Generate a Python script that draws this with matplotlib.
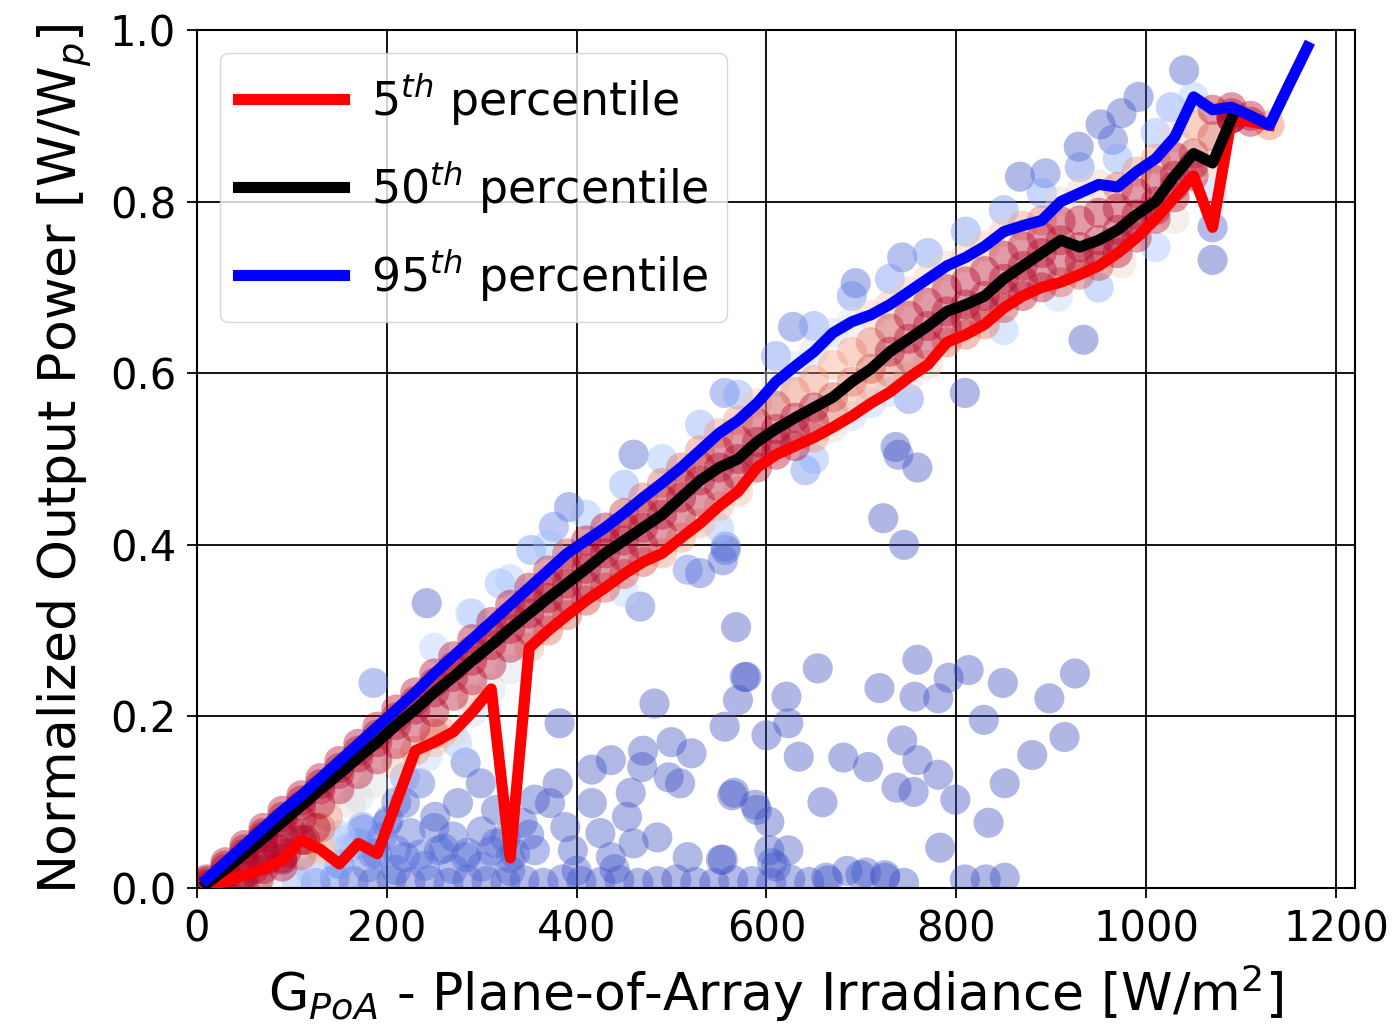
import numpy as np
import matplotlib
matplotlib.use("Agg")
import matplotlib.pyplot as plt

# irradiance bins (W/m2) used for the percentile curves
g_bins = list(range(10, 1171, 20))

p95 = [0.010, 0.030, 0.050, 0.070, 0.090, 0.108, 0.128, 0.148, 0.168, 0.188,
       0.208, 0.228, 0.250, 0.270, 0.290, 0.310, 0.330, 0.350, 0.370, 0.390,
       0.405, 0.420, 0.437, 0.455, 0.472, 0.490, 0.510, 0.530, 0.545, 0.565,
       0.590, 0.608, 0.625, 0.647, 0.660, 0.668, 0.680, 0.695, 0.710, 0.725,
       0.735, 0.748, 0.765, 0.772, 0.778, 0.800, 0.810, 0.820, 0.817, 0.835,
       0.850, 0.875, 0.922, 0.907, 0.910, 0.900, 0.889, 0.935, 0.980]

p50 = [0.005, 0.022, 0.040, 0.058, 0.077, 0.096, 0.115, 0.133, 0.152, 0.170,
       0.190, 0.208, 0.228, 0.246, 0.265, 0.283, 0.302, 0.320, 0.338, 0.355,
       0.372, 0.390, 0.405, 0.420, 0.435, 0.455, 0.475, 0.490, 0.500, 0.520,
       0.535, 0.548, 0.560, 0.572, 0.590, 0.605, 0.625, 0.640, 0.655, 0.672,
       0.680, 0.690, 0.710, 0.725, 0.740, 0.755, 0.747, 0.755, 0.767, 0.785,
       0.800, 0.830, 0.856, 0.845, 0.897]

p5 = [0.000, 0.008, 0.015, 0.022, 0.033, 0.056, 0.045, 0.028, 0.052, 0.040,
      0.100, 0.160, 0.170, 0.182, 0.205, 0.232, 0.035, 0.280, 0.300, 0.318,
      0.335, 0.350, 0.366, 0.380, 0.390, 0.408, 0.425, 0.445, 0.462, 0.490,
      0.505, 0.515, 0.525, 0.537, 0.550, 0.565, 0.578, 0.595, 0.610, 0.636,
      0.645, 0.657, 0.676, 0.690, 0.700, 0.706, 0.715, 0.725, 0.740, 0.758,
      0.780, 0.805, 0.830, 0.770, 0.897, 0.893, 0.889]

# quartile points of the dense band (same bins, up to 1090)
band_q1 = [0.003, 0.015, 0.030, 0.045, 0.062, 0.080, 0.098, 0.115, 0.133, 0.150,
           0.168, 0.187, 0.205, 0.224, 0.242, 0.260, 0.280, 0.300, 0.320, 0.337,
           0.353, 0.370, 0.386, 0.400, 0.413, 0.432, 0.450, 0.468, 0.481, 0.505,
           0.520, 0.532, 0.543, 0.555, 0.570, 0.585, 0.601, 0.618, 0.633, 0.654,
           0.663, 0.674, 0.693, 0.708, 0.720, 0.730, 0.731, 0.740, 0.754, 0.772,
           0.790, 0.818, 0.843, 0.810, 0.897]
band_q3 = [0.008, 0.026, 0.045, 0.064, 0.083, 0.102, 0.121, 0.140, 0.160, 0.179,
           0.199, 0.218, 0.239, 0.258, 0.277, 0.296, 0.316, 0.335, 0.354, 0.372,
           0.388, 0.405, 0.421, 0.437, 0.453, 0.472, 0.492, 0.510, 0.522, 0.542,
           0.562, 0.578, 0.592, 0.610, 0.625, 0.636, 0.652, 0.667, 0.682, 0.698,
           0.707, 0.719, 0.737, 0.748, 0.759, 0.777, 0.778, 0.787, 0.792, 0.810,
           0.825, 0.852, 0.889, 0.876, 0.903]
# each band point stands for this many measurements
band_weight = 8

# sparse edge of the band (just above / below it)
fringe_g = [250, 290, 330, 370, 410, 450, 490, 530, 570, 610, 650, 690, 730,
            770, 810, 850, 890, 930, 970, 1010,
            50, 90, 130, 170, 210, 250, 290, 330,
            450, 550, 650, 750, 850, 950, 1030]
fringe_p = [0.280, 0.320, 0.360, 0.400, 0.435, 0.470, 0.500, 0.540, 0.575, 0.620,
            0.655, 0.690, 0.710, 0.740, 0.765, 0.790, 0.810, 0.840, 0.850, 0.880,
            0.000, 0.035, 0.070, 0.105, 0.145, 0.180, 0.220, 0.255,
            0.345, 0.420, 0.500, 0.570, 0.650, 0.700, 0.780]

# scattered measurements away from the band
out_g = [641, 759, 739, 723, 745, 557, 554, 530, 568, 579, 570, 621, 654, 719,
         759, 756, 781, 792, 813, 849, 898, 925, 556, 600, 623, 634, 681, 707,
         743, 759, 781, 737, 755, 799, 829, 880, 914, 851, 834, 783, 659, 564,
         588, 603, 623, 610, 552, 663, 699, 725, 809, 831, 851,
         1040, 1070, 934, 809, 736, 992, 929, 867, 743, 694, 628, 556, 1026, 965,
         974, 894, 952, 1010, 974, 907,
         242, 288, 376, 392, 352, 319, 186, 467, 517, 557, 482, 382, 577, 460,
         500, 470]
out_p = [0.487, 0.490, 0.505, 0.431, 0.400, 0.398, 0.382, 0.367, 0.304, 0.246,
         0.219, 0.223, 0.256, 0.233, 0.266, 0.223, 0.221, 0.245, 0.254, 0.239,
         0.221, 0.250, 0.188, 0.178, 0.192, 0.153, 0.152, 0.141, 0.172, 0.149,
         0.132, 0.117, 0.112, 0.103, 0.196, 0.155, 0.176, 0.122, 0.076, 0.047,
         0.100, 0.108, 0.097, 0.077, 0.044, 0.025, 0.033, 0.012, 0.015, 0.012,
         0.010, 0.010, 0.012,
         0.953, 0.732, 0.639, 0.577, 0.514, 0.922, 0.864, 0.829, 0.735, 0.705,
         0.654, 0.577, 0.910, 0.872, 0.903, 0.833, 0.890, 0.747, 0.728, 0.689,
         0.332, 0.320, 0.421, 0.444, 0.394, 0.355, 0.239, 0.328, 0.371, 0.394,
         0.215, 0.192, 0.246, 0.505, 0.170, 0.160]

# low-output cloud (shading / curtailment)
cloud_g = [416, 436, 469, 497, 521, 509, 566, 416, 457, 485, 425, 380, 372, 554,
           606, 590, 603, 356, 343, 299, 283, 274, 259, 243, 235, 251, 275, 219,
           202, 195, 174, 154, 130, 114, 94, 74, 138, 162, 186, 219, 315, 315,
           255, 219, 283, 356, 396, 436, 460, 517, 388, 453,
           60, 85, 110, 135, 160, 185, 210, 235, 260, 285, 310, 335,
           70, 100, 125, 150, 175, 200, 225, 250, 270, 300, 325, 350, 400, 440]
cloud_p = [0.138, 0.149, 0.141, 0.129, 0.157, 0.122, 0.111, 0.099, 0.111, 0.059,
           0.064, 0.122, 0.099, 0.033, 0.029, 0.091, 0.044, 0.103, 0.076, 0.122,
           0.146, 0.169, 0.181, 0.153, 0.122, 0.083, 0.099, 0.099, 0.079, 0.059,
           0.071, 0.056, 0.048, 0.056, 0.041, 0.033, 0.083, 0.099, 0.122, 0.129,
           0.091, 0.052, 0.044, 0.036, 0.036, 0.044, 0.044, 0.036, 0.052, 0.036,
           0.071, 0.083,
           0.040, 0.045, 0.038, 0.042, 0.047, 0.040, 0.044, 0.039, 0.046, 0.041,
           0.043, 0.040,
           0.060, 0.065, 0.070, 0.062, 0.068, 0.075, 0.064, 0.070, 0.060, 0.066,
           0.058, 0.062, 0.020, 0.022]

bottom_g = [25, 45, 65, 85, 105, 125, 145, 165, 185, 205, 225, 245, 265, 285,
            305, 325, 345, 365, 385, 405, 425, 445, 465, 485, 505, 525, 545,
            565, 585, 605, 625, 645, 665, 685, 705, 725, 745,
            60, 90, 120, 150, 180, 210, 240, 270, 300, 330]
bottom_p = [0.008, 0.006, 0.010, 0.007, 0.009, 0.006, 0.011, 0.008, 0.006, 0.010,
            0.007, 0.009, 0.006, 0.010, 0.008, 0.007, 0.009, 0.006, 0.010, 0.008,
            0.007, 0.009, 0.006, 0.008, 0.010, 0.007, 0.006, 0.009, 0.008, 0.006,
            0.010, 0.007, 0.009, 0.020, 0.018, 0.015, 0.006,
            0.022, 0.025, 0.020, 0.028, 0.024, 0.021, 0.026, 0.022, 0.025, 0.020]

# ---- assemble scatter and colour by local point density ----
gb = np.array(g_bins, dtype=float)
n_band = len(p5) + len(band_q1) + len(p50) + len(band_q3) + len(p95) - 2
sx = np.concatenate([gb[:len(p5)], gb[:len(band_q1)], gb[:len(p50)],
                     gb[:len(band_q3)], gb[:len(p95) - 2],
                     fringe_g, out_g, cloud_g, bottom_g]).astype(float)
sy = np.concatenate([p5, band_q1, p50, band_q3, p95[:-2],
                     fringe_p, out_p, cloud_p, bottom_p]).astype(float)
w = np.ones_like(sx)
w[:n_band] = band_weight
# the dips of the 5th percentile sit inside the low cloud, treat them as cloud
dips = np.array(p5) < np.array(p95[:len(p5)]) - 0.1
w[:len(p5)][dips] = 1

dx = (sx[:, None] - sx[None, :]) / 30.0
dy = (sy[:, None] - sy[None, :]) / 0.02
dens = (np.exp(-0.5 * (dx ** 2 + dy ** 2)) * w[None, :]).sum(axis=1)
ref = np.percentile(dens[:n_band], 35)
c = np.clip((dens - 1.0) / (ref - 1.0), 0, 1) ** 1.6
order = np.argsort(c)

fig = plt.figure(figsize=(13.93, 10.34), dpi=100)
ax = fig.add_axes([0.1414, 0.1412, 0.8313, 0.8298])

ax.scatter(sx[order], sy[order], c=c[order], cmap='coolwarm', vmin=0, vmax=1,
           s=470, alpha=0.4, edgecolors='none', zorder=2)

ax.plot(g_bins[:len(p5)], p5, color='red', lw=8, label='5$^{th}$ percentile', zorder=3)
ax.plot(g_bins[:len(p50)], p50, color='black', lw=8, label='50$^{th}$ percentile', zorder=4)
ax.plot(g_bins, p95, color='blue', lw=8, label='95$^{th}$ percentile', zorder=5)

ax.set_xlim(0, 1220)
ax.set_ylim(0, 1.0)
ax.set_xticks([0, 200, 400, 600, 800, 1000, 1200])
ax.set_yticks([0.0, 0.2, 0.4, 0.6, 0.8, 1.0])
ax.grid(True, color='black', lw=1.3, zorder=1)
ax.set_axisbelow(True)
ax.tick_params(labelsize=30, length=7, width=1.3, pad=8)
for sp in ax.spines.values():
    sp.set_linewidth(1.5)

ax.set_xlabel('G$_{PoA}$ - Plane-of-Array Irradiance [W/m$^2$]', fontsize=37.5, labelpad=8)
ax.set_ylabel('Normalized Output Power [W/W$_p$]', fontsize=37.5, labelpad=12)

ax.legend(loc='upper left', fontsize=33, handlelength=2.3, handletextpad=0.6,
          labelspacing=0.7, framealpha=0.8)

fig.savefig('out.png', dpi=100)
